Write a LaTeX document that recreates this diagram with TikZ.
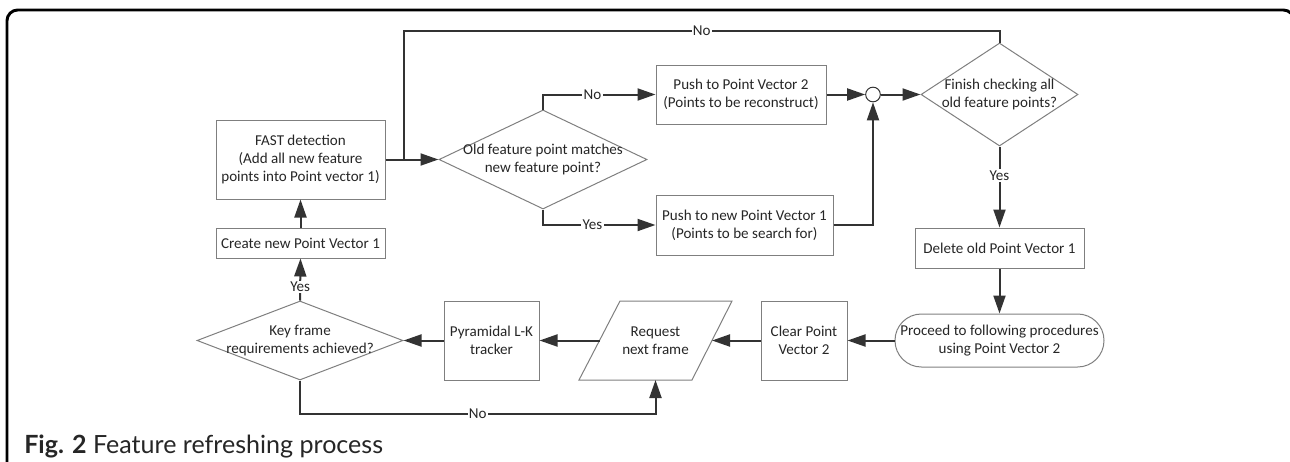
\documentclass[tikz,border=0pt]{standalone}
\usepackage{fontspec}
\setmainfont{Carlito}
\newfontfamily\capfont{Lato}
\usetikzlibrary{arrows.meta,shapes.geometric,calc}
\definecolor{conn}{HTML}{333333}
\definecolor{bord}{HTML}{7F7F7F}
\definecolor{txt}{HTML}{262626}
\begin{document}
\begin{tikzpicture}[x=0.75pt,y=-0.75pt,
  font=\fontsize{11.3}{13.5}\selectfont, text=txt,
  box/.style={draw=bord, line width=0.75pt, align=center, inner sep=0pt},
  dia/.style={draw=bord, line width=0.75pt, diamond, inner sep=0pt},
  lbl/.style={align=center, inner sep=0pt},
  arr/.style={draw=conn, line width=1.5pt, -{Triangle[length=13.5pt,width=9pt]}},
  ln/.style={draw=conn, line width=1.5pt},
  tag/.style={fill=white, inner sep=1pt, font=\fontsize{11.3}{13}\selectfont}]
\useasboundingbox (0,0) rectangle (1290,461);
\clip (0,0) rectangle (1290,461);
\draw[line width=2.2pt, rounded corners=8pt] (7,10) rectangle (1294,490);

% top row nodes
\node[box, minimum width=126.75pt, minimum height=59.25pt] (fast) at (300.5,159.5)
  {FAST detection\\(Add all new feature\\points into Point vector 1)};
\node[box, minimum width=126.75pt, minimum height=22.5pt] (create) at (300.5,243)
  {Create new Point Vector 1};
\node[dia, minimum width=156pt, minimum height=74.25pt] (old) at (543,159.5) {};
\node[lbl] at (old) {Old feature point matches\\new feature point?};
\node[box, minimum width=127.5pt, minimum height=44.25pt] (push2) at (741,94.5)
  {Push to Point Vector 2\\(Points to be reconstruct)};
\node[box, minimum width=132.75pt, minimum height=45pt] (push1) at (744.5,225)
  {Push to new Point Vector 1\\(Points to be search for)};
\node[draw=conn, line width=0.75pt, circle, minimum size=11pt, inner sep=0pt] (circ) at (873,94.5) {};
\node[dia, minimum width=117.75pt, minimum height=77.25pt] (fin) at (999.5,94.5) {};
\node[lbl] at (fin) {Finish checking all\\old feature points?};
\node[box, minimum width=126.75pt, minimum height=30pt] (del) at (999.5,248)
  {Delete old Point Vector 1};

% bottom row
\node[draw=bord, line width=0.75pt, align=center, inner sep=0pt,
  minimum width=156.75pt, minimum height=39.75pt, rounded corners=19.8pt] (proc) at (999.5,340.5)
  {Proceed to following procedures\\using Point Vector 2};
\node[box, minimum width=64.5pt, minimum height=59.25pt] (clear) at (804,340.5)
  {Clear Point\\Vector 2};
\node[lbl] (req) at (655.5,340.5) {Request\\next frame};
\draw[draw=bord, line width=0.75pt] (579,380) -- (692,380) -- (732,301) -- (620,301) -- cycle;
\coordinate (reqE) at (712,340.5);
\coordinate (reqW) at (599.5,340.5);
\coordinate (reqS) at (655.5,380);
\node[box, minimum width=71.25pt, minimum height=59.25pt] (pyr) at (491.5,340.5)
  {Pyramidal L-K\\tracker};
\node[dia, minimum width=154.5pt, minimum height=59.25pt] (key) at (300,340.5) {};
\node[lbl] at (key) {Key frame\\requirements achieved?};

\node[anchor=base west, inner sep=0pt, font=\capfont\fontsize{18.8}{21}\selectfont] (cap) at (24,453)
  {\textbf{Fig. 2} Feature refreshing process};

% helper coordinates
\coordinate (j) at (404,159.5);
\coordinate (topy) at (0,31);
\coordinate (boty) at (0,414);

% connectors
\draw[arr] (create) -- (fast);
\draw[ln] (fast.east) -- (j);
\draw[arr] (j) -- (old.west);
\draw[ln] (fin.north) -- (fin.north |- topy) -- node[tag]{No} (j |- topy) -- (j);
\draw[arr] (old.north) |- node[tag, pos=0.72]{No} (push2.west);
\draw[arr] (old.south) |- node[tag, pos=0.72]{Yes} (push1.west);
\draw[arr] (push2.east) -- (circ.west);
\draw[arr] (push1.east) -| (circ.south);
\draw[arr] (circ.east) -- (fin.west);
\draw[arr] (fin.south) -- node[tag, pos=0.36]{Yes} (del.north);
\draw[arr] (del.south) -- (proc.north);
\draw[arr] (proc.west) -- (clear.east);
\draw[arr] (clear.west) -- (reqE);
\draw[arr] (reqW) -- (pyr.east);
\draw[arr] (pyr.west) -- (key.east);
\draw[arr] (key.north) -- node[tag, pos=0.32]{Yes} (create.south);
\draw[arr] (key.south) -- (key.south |- boty) -- node[tag]{No} (reqS |- boty) -- (reqS);
\end{tikzpicture}
\end{document}
